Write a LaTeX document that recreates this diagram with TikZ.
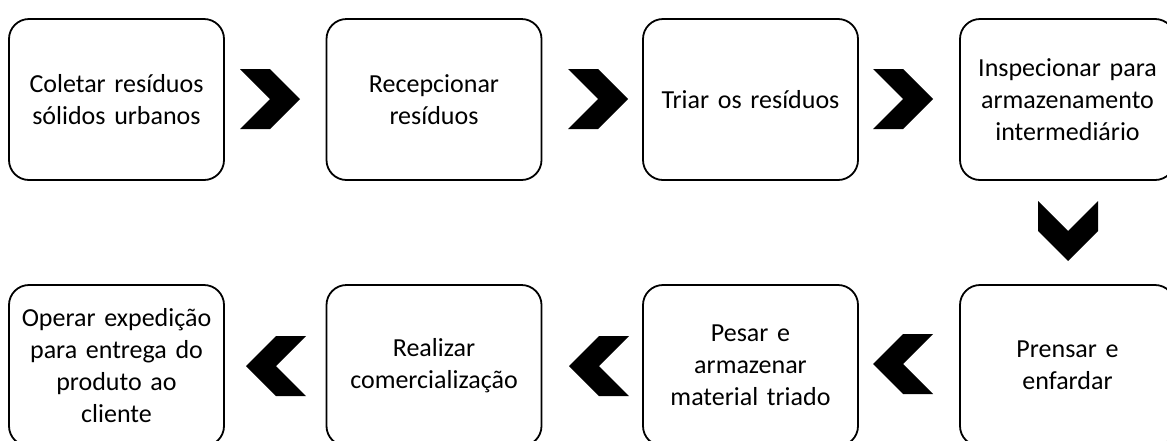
\documentclass[tikz,border=0pt]{standalone}
\usepackage{fontspec}
\setmainfont{Carlito}
\begin{document}
\begin{tikzpicture}[x=1pt,y=-1pt,
  stepbox/.style={draw=black, line width=1.8pt, rounded corners=20pt,
    minimum width=215pt, minimum height=161pt, align=center,
    text width=205pt, inner sep=0pt, font=\fontsize{26}{32}\selectfont},
  chevron/.pic={\fill[black] (-30,-30) -- (0,-30) -- (30,0) -- (0,30) -- (-30,30) -- (0,0) -- cycle;}]
\useasboundingbox (0,0) rectangle (1167,440);
\clip (0,0) rectangle (1167,440);
% top row
\node[stepbox] (b1) at (116.5,99.5) {Coletar resíduos\\sólidos urbanos};
\node[stepbox] (b2) at (434,99.5) {Recepcionar\\resíduos};
\node[stepbox] (b3) at (750.5,99.5) {Triar os resíduos};
\node[stepbox] (b4) at (1067.5,99.5) {Inspecionar para\\armazenamento\\intermediário};
% bottom row
\node[stepbox] (b5) at (1067.5,365.5) {Prensar e\\enfardar};
\node[stepbox] (b6) at (750.5,365.5) {Pesar e\\armazenar\\material triado};
\node[stepbox] (b7) at (434,365.5) {Realizar\\comercialização};
\node[stepbox] (b8) at (116.5,365.5) {Operar expedição\\para entrega do\\produto ao\\cliente};
% chevrons
\pic at (270,99) {chevron};
\pic at (598,99) {chevron};
\pic at (903,99) {chevron};
\pic[rotate=-90] at (1068,231) {chevron};
\pic[rotate=180] at (903,364) {chevron};
\pic[rotate=180] at (599,366) {chevron};
\pic[rotate=180] at (276,366) {chevron};
\end{tikzpicture}
\end{document}
